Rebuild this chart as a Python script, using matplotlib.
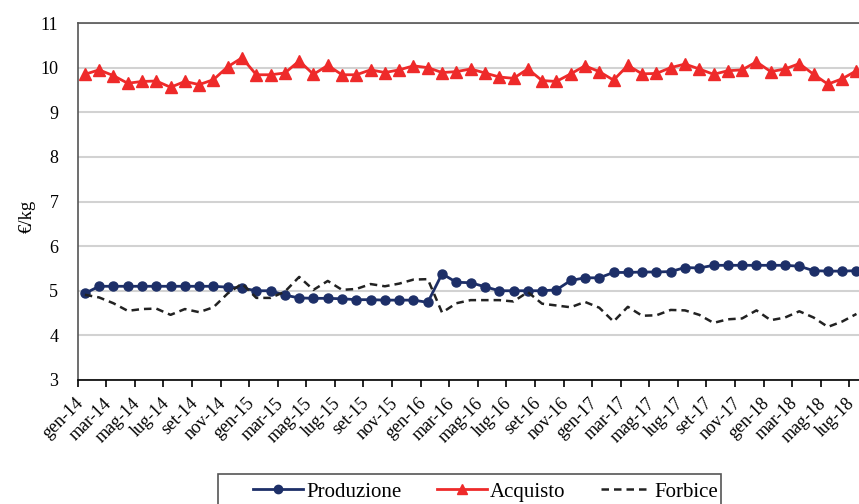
import numpy as np
import matplotlib
matplotlib.use("Agg")
import matplotlib.pyplot as plt
import matplotlib.transforms as mtransforms
from matplotlib.lines import Line2D
from matplotlib.patches import Rectangle

# Monthly categories: gen-14 ... lug-18
month_names = ["gen", "feb", "mar", "apr", "mag", "giu",
               "lug", "ago", "set", "ott", "nov", "dic"]
years = ["14", "15", "16", "17", "18"]
categories = [f"{m}-{y}" for y in years for m in month_names][:55]

produzione = [4.94, 5.10, 5.10, 5.10, 5.10, 5.10, 5.10, 5.10, 5.10, 5.10,
              5.08, 5.06, 5.00, 5.00, 4.90, 4.84, 4.83, 4.83, 4.82, 4.80,
              4.80, 4.79, 4.79, 4.79, 4.74, 5.38, 5.19, 5.18, 5.09, 5.00,
              5.00, 5.00, 5.00, 5.02, 5.23, 5.29, 5.29, 5.41, 5.41, 5.42,
              5.42, 5.43, 5.52, 5.51, 5.57, 5.57, 5.57, 5.57, 5.57, 5.57,
              5.55, 5.45, 5.44, 5.44, 5.45]

acquisto = [9.85, 9.95, 9.82, 9.65, 9.69, 9.70, 9.56, 9.69, 9.62, 9.73,
            10.02, 10.22, 9.84, 9.84, 9.88, 10.15, 9.85, 10.05, 9.84, 9.84,
            9.95, 9.89, 9.95, 10.04, 10.00, 9.89, 9.91, 9.97, 9.88, 9.79,
            9.76, 9.97, 9.71, 9.69, 9.86, 10.04, 9.91, 9.72, 10.05, 9.86,
            9.87, 10.00, 10.08, 9.97, 9.85, 9.93, 9.95, 10.13, 9.91, 9.97,
            10.09, 9.85, 9.63, 9.75, 9.93]

forbice = [4.91, 4.85, 4.72, 4.55, 4.59, 4.60, 4.46, 4.59, 4.52, 4.63,
           4.94, 5.16, 4.84, 4.84, 4.98, 5.31, 5.02, 5.22, 5.02, 5.04,
           5.15, 5.10, 5.16, 5.25, 5.26, 4.51, 4.72, 4.79, 4.79, 4.79,
           4.76, 4.97, 4.71, 4.67, 4.63, 4.75, 4.62, 4.31, 4.64, 4.44,
           4.45, 4.57, 4.56, 4.46, 4.28, 4.36, 4.38, 4.56, 4.34, 4.40,
           4.54, 4.40, 4.19, 4.31, 4.48]

yticks = [3, 4, 5, 6, 7, 8, 9, 10, 11]

SERIF = "Liberation Serif"
NAVY = "#1d2f68"
RED = "#ee2a2a"
DARK = "#222222"

W, H = 859, 504
fig = plt.figure(figsize=(W / 100, H / 100), dpi=100)
ax = fig.add_axes([77.7 / W, 1 - 380 / H, (863.6 - 77.7) / W, 357 / H])

x = np.arange(len(categories))
ax.plot(x, produzione, color=NAVY, lw=2.0, marker="o", ms=6.5,
        label="Produzione", zorder=3)
ax.plot(x, acquisto, color=RED, lw=2.0, marker="^", ms=8,
        label="Acquisto", zorder=3)
ax.plot(x, forbice, color=DARK, lw=1.8, ls=(0, (3, 2)),
        label="Forbice", zorder=4)

ax.set_xlim(-0.5, len(categories) - 0.5)
ax.set_ylim(3, 11)

# horizontal gridlines
ax.set_yticks(yticks)
ax.yaxis.grid(True, color="#d2d2d2", lw=1.5)
ax.set_axisbelow(True)
ax.tick_params(axis="y", length=0, pad=14, labelsize=13)
for lab in ax.get_yticklabels():
    lab.set_family(SERIF)

# tick marks between categories
ax.set_xticks(np.arange(-0.5, len(categories), 2))
ax.set_xticklabels([])
ax.tick_params(axis="x", which="major", length=5, width=1.2, color="black")

# rotated labels on every other category
label_tf = ax.get_xaxis_transform() + mtransforms.ScaledTranslation(
    -3 / 72, -15 / 72, fig.dpi_scale_trans)
for i in x[::2]:
    ax.text(i, 0, categories[i], transform=label_tf, rotation=45,
            ha="right", va="center", rotation_mode="anchor",
            fontsize=13, family=SERIF, clip_on=False)

for side in ("left", "top"):
    ax.spines[side].set_color("#555555")
    ax.spines[side].set_linewidth(1.2)
ax.spines["bottom"].set_color("black")
ax.spines["bottom"].set_linewidth(1.2)
ax.spines["right"].set_visible(False)

fig.text(27 / W, 1 - 216 / H, "€/kg", rotation=90, ha="center",
         va="center", fontsize=13.5, family=SERIF)

# legend box below the plot
fig.patches.append(Rectangle((218 / W, -0.05), (721 - 218) / W,
                             1 - 474 / H + 0.05, transform=fig.transFigure,
                             facecolor="white", edgecolor="#555555",
                             lw=1.2, zorder=1))
handles = [
    Line2D([], [], color=NAVY, lw=2.0, marker="o", ms=6),
    Line2D([], [], color=RED, lw=2.0, marker="^", ms=7),
    Line2D([], [], color=DARK, lw=1.8, ls=(0, (3, 2))),
]
leg = fig.legend(handles, ["Produzione", "Acquisto", "Forbice"], ncol=3,
                 loc="center left", bbox_to_anchor=(253 / W, 1 - 492 / H),
                 frameon=False, prop={"family": SERIF, "size": 15},
                 handlelength=2.4, handletextpad=0.15, columnspacing=1.7,
                 borderpad=0, borderaxespad=0)
leg.set_zorder(2)

fig.savefig("out.png", dpi=100)
